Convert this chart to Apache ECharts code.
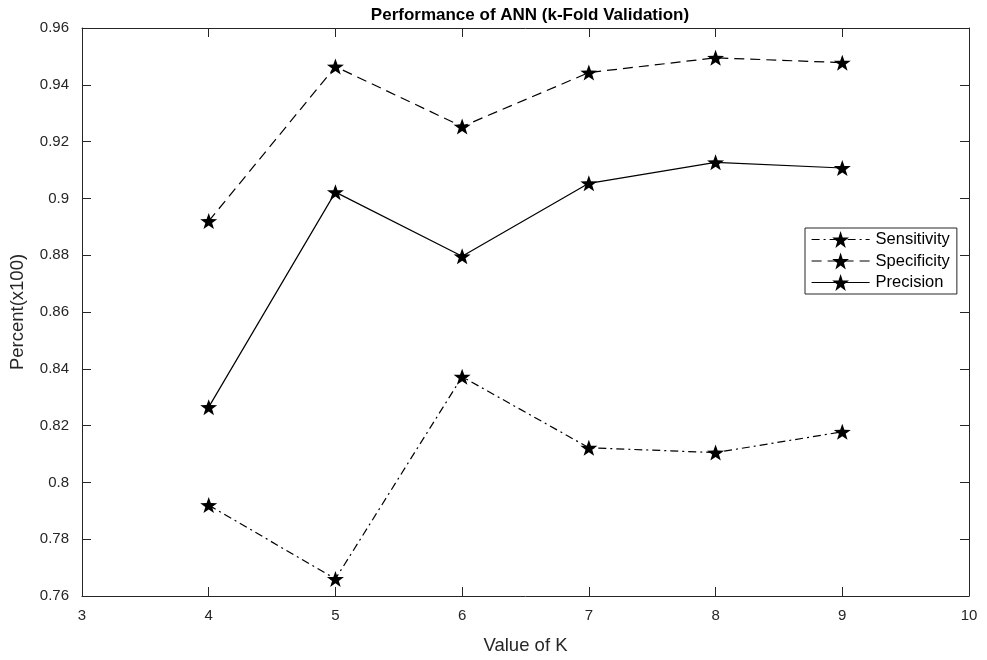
<!DOCTYPE html>
<html>
<head>
<meta charset="utf-8">
<script src="https://cdn.jsdelivr.net/npm/echarts@6/dist/echarts.min.js"></script>
<style>
  html, body { margin: 0; padding: 0; background: #fff; }
  #chart { width: 987px; height: 660px; }
</style>
</head>
<body>
<div id="chart"></div>
<script>
// k-fold validation results of the ANN
const kValues = [4, 5, 6, 7, 8, 9];
const sensitivity = [0.792, 0.766, 0.8372, 0.8122, 0.8105, 0.8178];
const specificity = [0.892, 0.9464, 0.9253, 0.9443, 0.9495, 0.9478];
const precision = [0.8265, 0.9022, 0.8796, 0.9053, 0.9127, 0.9107];

const seriesNames = ['Sensitivity', 'Specificity', 'Precision'];
const titleText = 'Performance of ANN (k-Fold Validation)';
const xName = 'Value of K';
const yName = 'Percent(x100)';

const pair = vals => kValues.map((k, i) => [k, vals[i]]);

// five-pointed star marker
const star = 'path://M0,-10 L2.35,-3.24 L9.51,-3.09 L3.8,1.24 L5.88,8.09 L0,4 L-5.88,8.09 L-3.8,1.24 L-9.51,-3.09 L-2.35,-3.24 Z';

const axisColor = '#262626';
const font = 'Liberation Sans, Arial, Helvetica, sans-serif';

function lineSeries(name, vals, dash) {
  return {
    name: name,
    type: 'line',
    data: pair(vals),
    symbol: star,
    symbolSize: [17, 16],
    showAllSymbol: true,
    itemStyle: { color: '#000' },
    lineStyle: { color: '#000', width: 1.2, type: dash },
    emphasis: { disabled: true },
    animation: false,
    z: 3
  };
}

const chart = echarts.init(document.getElementById('chart'));
const hiddenAxis = {
  axisLine: { show: true, lineStyle: { color: axisColor, width: 1 } },
  axisTick: { show: true, inside: true, length: 9, lineStyle: { color: axisColor } },
  axisLabel: { show: false },
  splitLine: { show: false }
};

chart.setOption({
  animation: false,
  backgroundColor: '#fff',
  title: {
    text: titleText,
    left: 525,
    textAlign: 'center',
    top: 2,
    textStyle: { fontFamily: font, fontSize: 17, fontWeight: 'bold', color: '#000' }
  },
  grid: { left: 81, right: 18, top: 28, bottom: 63, containLabel: false },
  legend: {
    data: seriesNames,
    orient: 'vertical',
    left: 805,
    top: 228,
    itemWidth: 58,
    itemHeight: 21,
    itemGap: 4.5,
    padding: [3, 7, 3, 6],
    borderColor: axisColor,
    borderWidth: 1,
    backgroundColor: '#fff',
    lineStyle: { width: 1.2 },
    textStyle: { fontFamily: font, fontSize: 16.5, color: '#000', padding: [0, 0, 0, 1] }
  },
  xAxis: [
    {
      type: 'value',
      min: 3, max: 10, interval: 1,
      name: xName,
      nameLocation: 'middle',
      nameGap: 40,
      nameTextStyle: { fontFamily: font, fontSize: 18.5, color: axisColor },
      axisLine: { show: true, onZero: false, lineStyle: { color: axisColor, width: 1 } },
      axisTick: { show: true, inside: true, length: 9, lineStyle: { color: axisColor } },
      axisLabel: { fontFamily: font, fontSize: 15, color: axisColor, margin: 12 },
      splitLine: { show: false }
    },
    Object.assign({ type: 'value', min: 3, max: 10, interval: 1, position: 'top' }, hiddenAxis)
  ],
  yAxis: [
    {
      type: 'value',
      min: 0.76, max: 0.96, interval: 0.02,
      name: yName,
      nameLocation: 'middle',
      nameGap: 55,
      nameTextStyle: { fontFamily: font, fontSize: 18.5, color: axisColor },
      axisLine: { show: true, onZero: false, lineStyle: { color: axisColor, width: 1 } },
      axisTick: { show: true, inside: true, length: 9, lineStyle: { color: axisColor } },
      axisLabel: {
        fontFamily: font, fontSize: 15, color: axisColor, margin: 13,
        formatter: v => String(parseFloat(v.toFixed(2)))
      },
      splitLine: { show: false }
    },
    Object.assign({ type: 'value', min: 0.76, max: 0.96, interval: 0.02, position: 'right' }, hiddenAxis)
  ],
  series: [
    lineSeries('Sensitivity', sensitivity, [8, 4, 2, 4]),
    lineSeries('Specificity', specificity, [10, 6]),
    lineSeries('Precision', precision, 'solid')
  ]
});
</script>
</body>
</html>
